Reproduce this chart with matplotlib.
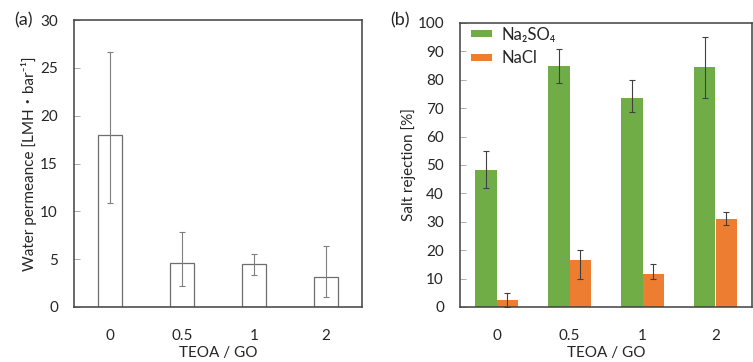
import matplotlib
matplotlib.use("Agg")
import matplotlib.pyplot as plt
import numpy as np

categories = ["0", "0.5", "1", "2"]
perm = [18.0, 4.6, 4.5, 3.1]
perm_lo = [10.9, 2.2, 3.3, 1.0]
perm_hi = [26.7, 7.8, 5.5, 6.4]

na2so4 = [48.3, 84.7, 73.6, 84.4]
na2so4_lo = [42.0, 79.0, 68.8, 73.6]
na2so4_hi = [55.0, 90.8, 80.0, 94.9]
nacl = [2.5, 16.6, 11.6, 31.0]
nacl_lo = [0.0, 10.0, 9.8, 29.0]
nacl_hi = [5.1, 20.0, 15.2, 33.3]

plt.rcParams['font.family'] = ['Lato', 'Noto Sans CJK JP', 'DejaVu Sans']
plt.rcParams['font.size'] = 10.5
TXT = '#262626'
SP = '#404040'

fig = plt.figure(figsize=(7.53, 3.62), dpi=100)
axA = fig.add_axes([74/753, 1-307/362, (362-74)/753, (307-20)/362])
axB = fig.add_axes([460/753, 1-307/362, (752-460)/753, (307-23)/362])

x = np.arange(len(categories))

def style(ax, ypad):
    for s in ax.spines.values():
        s.set_color(SP)
        s.set_linewidth(1.1)
    ax.tick_params(axis='y', direction='in', length=4, width=0.6, color='#a0a0a0',
                   labelcolor=TXT, labelsize=11, pad=ypad)
    ax.tick_params(axis='x', length=0, labelcolor=TXT, labelsize=11, pad=16)
    ax.set_xticks(x)
    ax.set_xticklabels(categories)
    ax.set_xlim(-0.5, len(categories) - 0.5)
    ax.set_xlabel("TEOA / GO", color=TXT, fontsize=11, labelpad=2)

# (a)
err = [np.array(perm) - np.array(perm_lo), np.array(perm_hi) - np.array(perm)]
axA.bar(x, perm, width=0.32, color='white', edgecolor='#6e6e6e', linewidth=0.9,
        yerr=err, error_kw=dict(ecolor='#7f7f7f', elinewidth=0.8, capsize=2.5, capthick=0.8))
axA.set_ylim(0, 30)
axA.set_yticks(range(0, 31, 5))
style(axA, 11.5)
axA.set_ylabel("Water permeance [LMH・bar⁻¹]", color=TXT, fontsize=11, labelpad=2)
fig.text(14/753, 1-20/362, "(a)", fontsize=13, color=TXT, va='center', ha='left')

# (b)
w = 0.29
errg = [np.array(na2so4) - np.array(na2so4_lo), np.array(na2so4_hi) - np.array(na2so4)]
erro = [np.array(nacl) - np.array(nacl_lo), np.array(nacl_hi) - np.array(nacl)]
ek = dict(ecolor='#404040', elinewidth=0.8, capsize=2.5, capthick=0.8)
axB.bar(x - w/2, na2so4, width=w, color='#70AD47', label='Na₂SO₄', yerr=errg, error_kw=ek)
axB.bar(x + w/2, nacl, width=w, color='#ED7D31', label='NaCl', yerr=erro, error_kw=ek)
axB.set_ylim(0, 100)
axB.set_yticks(range(0, 101, 10))
style(axB, 11.5)
axB.set_ylabel("Salt rejection [%]", color=TXT, fontsize=11, labelpad=1)
leg = axB.legend(loc='upper left', bbox_to_anchor=(0.0, 1.025), frameon=False, fontsize=12,
                 handlelength=1.26, handleheight=0.3, labelspacing=0.45,
                 borderaxespad=0.25, handletextpad=0.55)
for t in leg.get_texts():
    t.set_color(TXT)
fig.text(390/753, 1-20/362, "(b)", fontsize=13, color=TXT, va='center', ha='left')

fig.savefig("out.png", dpi=100)
